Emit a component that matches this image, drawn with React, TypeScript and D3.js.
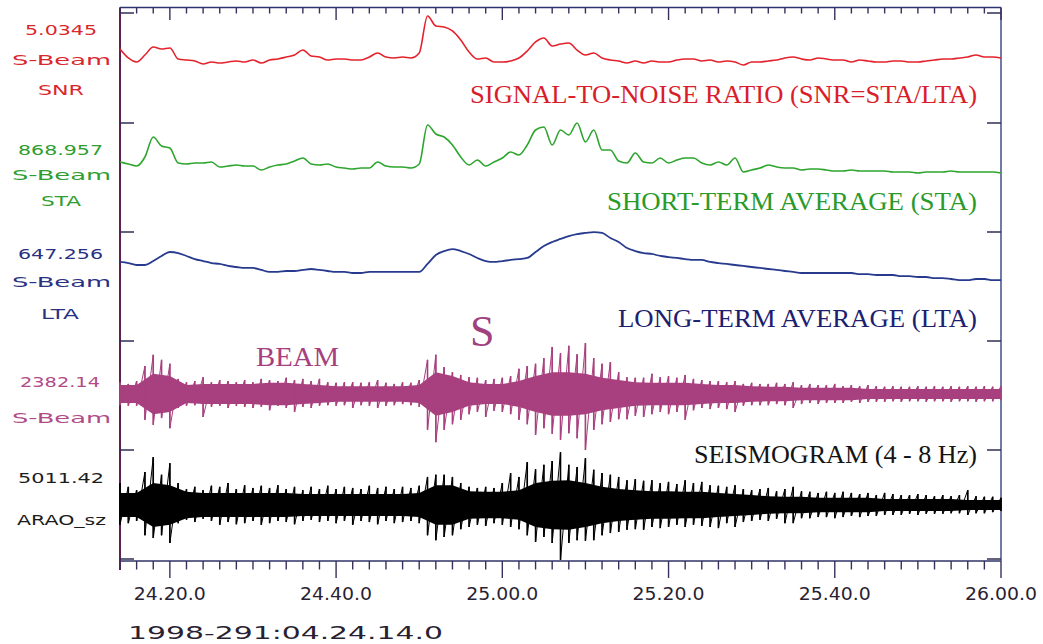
import React from "react";
import * as d3 from "d3";

const W = 1043;
const H = 644;

// Time axis: seconds after 1998-291 04:24:14.0
const START_LABEL = "1998-291:04.24.14.0";
const T_END = 106;
const SAMPLE_TIMES = d3.range(0, 107); // 1-s samples
const CORE_TIMES = d3.range(0, 107, 2); // 2-s samples
const MINOR_TICKS = d3.range(0, 107, 2);
const MAJOR_TICKS = [6, 26, 46, 66, 86, 106];
const MAJOR_LABELS = ["24.20.0", "24.40.0", "25.00.0", "25.20.0", "25.40.0", "26.00.0"];

// Trace peak values (labels at left)
const SNR_PEAK = 5.0345;
const STA_PEAK = 868.957;
const LTA_PEAK = 647.256;
const BEAM_PEAK = 2382.14;
const SEIS_PEAK = 5011.42;

// Signal-to-noise ratio (STA/LTA), 1-s samples
const SNR = [
  2.0, 1.22, 0.87, 1.48, 2.17, 2.0, 2.09, 1.13, 1.04, 0.96,
  0.7, 0.87, 0.78, 0.87, 0.96, 0.87, 1.04, 0.78, 1.04, 1.13,
  1.3, 1.48, 1.91, 1.39, 1.3, 1.04, 1.13, 1.13, 1.04, 1.04,
  1.3, 1.65, 1.3, 1.22, 1.3, 1.22, 1.65, 4.87, 4.0, 3.91,
  3.57, 2.78, 1.74, 1.13, 1.22, 0.87, 0.87, 0.96, 1.22, 1.83,
  2.61, 2.96, 2.26, 2.43, 2.52, 1.91, 1.48, 1.65, 1.22, 1.04,
  0.96, 0.78, 0.96, 0.78, 0.96, 0.87, 0.87, 1.04, 1.13, 1.13,
  0.96, 1.04, 0.87, 0.96, 0.87, 0.61, 0.87, 0.87, 0.96, 1.04,
  1.22, 1.3, 1.13, 1.04, 1.22, 1.13, 1.04, 1.04, 0.87, 1.04,
  0.96, 0.87, 0.87, 0.96, 0.96, 0.87, 0.87, 0.96, 1.04, 1.13,
  1.13, 1.22, 1.3, 1.48, 1.3, 1.3, 1.22,
];

// Short-term average
const STA = [
  363, 337, 311, 428, 687, 571, 545, 350, 337, 350,
  350, 363, 298, 311, 324, 311, 311, 259, 298, 324,
  337, 376, 415, 337, 324, 337, 298, 285, 272, 285,
  285, 363, 311, 298, 298, 285, 337, 843, 726, 687,
  584, 428, 324, 389, 311, 363, 415, 493, 454, 584,
  778, 817, 584, 778, 713, 869, 623, 778, 519, 519,
  376, 350, 480, 363, 350, 415, 350, 389, 415, 415,
  350, 324, 363, 324, 415, 233, 259, 285, 324, 298,
  285, 285, 259, 272, 272, 259, 246, 246, 259, 246,
  246, 246, 246, 233, 233, 233, 220, 233, 233, 233,
  246, 233, 233, 233, 233, 233, 220,
];

// Long-term average
const LTA = [
  362, 352, 333, 333, 371, 419, 457, 447, 419, 390,
  371, 352, 343, 324, 314, 305, 305, 286, 267, 267,
  276, 276, 286, 295, 286, 276, 267, 267, 257, 257,
  267, 267, 267, 267, 267, 267, 267, 343, 428, 466,
  485, 466, 438, 400, 371, 362, 371, 381, 390, 400,
  457, 514, 552, 581, 609, 628, 638, 647, 638, 590,
  552, 495, 466, 447, 438, 419, 409, 400, 390, 381,
  381, 362, 352, 343, 333, 324, 314, 305, 295, 286,
  276, 267, 257, 257, 257, 257, 257, 257, 257, 247,
  247, 238, 238, 238, 228, 228, 219, 219, 209, 209,
  200, 190, 190, 200, 200, 190, 190,
];

// Beam: per-second max / min (fraction of peak) and 2-s core envelope
const BEAM_MAX = [
  0.21, 0.18, 0.23, 0.5, 0.7, 0.61, 0.54, 0.27, 0.21, 0.23,
  0.3, 0.21, 0.25, 0.23, 0.21, 0.25, 0.21, 0.27, 0.25, 0.23,
  0.29, 0.25, 0.27, 0.23, 0.27, 0.21, 0.2, 0.21, 0.21, 0.2,
  0.21, 0.25, 0.2, 0.18, 0.21, 0.2, 0.25, 0.61, 0.7, 0.48,
  0.39, 0.34, 0.3, 0.29, 0.25, 0.27, 0.29, 0.32, 0.45, 0.5,
  0.54, 0.64, 0.84, 0.73, 0.86, 0.71, 0.91, 0.64, 0.54, 0.57,
  0.39, 0.3, 0.29, 0.29, 0.36, 0.3, 0.32, 0.29, 0.34, 0.27,
  0.25, 0.23, 0.23, 0.21, 0.23, 0.18, 0.2, 0.18, 0.18, 0.2,
  0.18, 0.21, 0.16, 0.18, 0.16, 0.16, 0.18, 0.14, 0.16, 0.14,
  0.16, 0.14, 0.13, 0.14, 0.13, 0.13, 0.14, 0.13, 0.14, 0.13,
  0.14, 0.13, 0.14, 0.13, 0.14, 0.13, 0.14,
];
const BEAM_MIN = [
  -0.2, -0.21, -0.21, -0.46, -0.55, -0.43, -0.61, -0.25, -0.21, -0.2,
  -0.41, -0.23, -0.21, -0.25, -0.21, -0.23, -0.25, -0.23, -0.29, -0.21,
  -0.25, -0.32, -0.23, -0.25, -0.21, -0.2, -0.21, -0.2, -0.25, -0.2,
  -0.21, -0.25, -0.21, -0.2, -0.18, -0.2, -0.23, -0.64, -0.86, -0.64,
  -0.54, -0.46, -0.36, -0.32, -0.41, -0.3, -0.32, -0.36, -0.46, -0.54,
  -0.73, -0.61, -0.71, -0.82, -0.7, -0.79, -1.0, -0.64, -0.54, -0.5,
  -0.45, -0.45, -0.39, -0.41, -0.36, -0.32, -0.36, -0.32, -0.46, -0.29,
  -0.25, -0.27, -0.25, -0.27, -0.32, -0.21, -0.2, -0.2, -0.2, -0.18,
  -0.2, -0.25, -0.18, -0.16, -0.18, -0.16, -0.16, -0.16, -0.14, -0.16,
  -0.14, -0.14, -0.14, -0.13, -0.14, -0.13, -0.13, -0.14, -0.13, -0.13,
  -0.14, -0.13, -0.13, -0.14, -0.13, -0.13, -0.11,
];
const BEAM_CORE = [
  0.16, 0.16, 0.36, 0.32, 0.16, 0.18, 0.18, 0.18, 0.18, 0.2,
  0.2, 0.18, 0.16, 0.14, 0.14, 0.14, 0.14, 0.14, 0.16, 0.39,
  0.32, 0.21, 0.18, 0.18, 0.23, 0.32, 0.39, 0.39, 0.36, 0.29,
  0.25, 0.21, 0.2, 0.2, 0.2, 0.18, 0.16, 0.16, 0.14, 0.13,
  0.13, 0.11, 0.11, 0.11, 0.11, 0.09, 0.09, 0.09, 0.09, 0.09,
  0.09, 0.09, 0.09, 0.09,
];

// Seismogram ARAO_sz (4-8 Hz)
const SEIS_MAX = [
  0.4, 0.33, 0.27, 0.6, 0.87, 0.55, 0.76, 0.4, 0.29, 0.33,
  0.27, 0.35, 0.33, 0.4, 0.29, 0.36, 0.31, 0.35, 0.31, 0.36,
  0.29, 0.33, 0.27, 0.33, 0.29, 0.35, 0.29, 0.33, 0.31, 0.29,
  0.35, 0.31, 0.33, 0.29, 0.33, 0.31, 0.35, 0.51, 0.55, 0.55,
  0.51, 0.4, 0.33, 0.31, 0.33, 0.31, 0.4, 0.58, 0.51, 0.78,
  0.65, 0.73, 0.8, 0.96, 0.73, 0.69, 0.85, 0.64, 0.58, 0.55,
  0.51, 0.45, 0.47, 0.44, 0.45, 0.4, 0.42, 0.38, 0.45, 0.4,
  0.42, 0.36, 0.35, 0.33, 0.36, 0.29, 0.27, 0.29, 0.31, 0.25,
  0.29, 0.33, 0.25, 0.24, 0.22, 0.24, 0.22, 0.24, 0.22, 0.2,
  0.22, 0.18, 0.22, 0.2, 0.18, 0.18, 0.2, 0.18, 0.16, 0.18,
  0.16, 0.18, 0.27, 0.16, 0.15, 0.15, 0.13,
];
const SEIS_MIN = [
  -0.36, -0.33, -0.29, -0.55, -0.6, -0.55, -0.69, -0.33, -0.27, -0.31,
  -0.25, -0.29, -0.36, -0.31, -0.35, -0.33, -0.29, -0.36, -0.33, -0.29,
  -0.31, -0.35, -0.29, -0.27, -0.31, -0.29, -0.33, -0.29, -0.36, -0.29,
  -0.31, -0.35, -0.29, -0.33, -0.31, -0.29, -0.33, -0.55, -0.64, -0.58,
  -0.55, -0.44, -0.4, -0.36, -0.38, -0.33, -0.36, -0.4, -0.44, -0.55,
  -0.67, -0.58, -0.69, -1.0, -0.69, -0.64, -0.65, -0.64, -0.55, -0.51,
  -0.49, -0.45, -0.44, -0.45, -0.4, -0.42, -0.4, -0.36, -0.4, -0.36,
  -0.38, -0.4, -0.42, -0.33, -0.4, -0.31, -0.29, -0.27, -0.29, -0.25,
  -0.33, -0.33, -0.24, -0.24, -0.22, -0.22, -0.24, -0.22, -0.2, -0.22,
  -0.2, -0.2, -0.18, -0.18, -0.18, -0.16, -0.18, -0.16, -0.16, -0.16,
  -0.15, -0.15, -0.18, -0.15, -0.15, -0.13, -0.11,
];
const SEIS_CORE = [
  0.22, 0.22, 0.4, 0.36, 0.24, 0.22, 0.22, 0.22, 0.22, 0.22,
  0.22, 0.2, 0.2, 0.2, 0.2, 0.2, 0.2, 0.2, 0.22, 0.36,
  0.36, 0.25, 0.24, 0.24, 0.27, 0.4, 0.44, 0.45, 0.4, 0.33,
  0.29, 0.27, 0.25, 0.25, 0.24, 0.24, 0.22, 0.2, 0.18, 0.16,
  0.15, 0.15, 0.13, 0.13, 0.13, 0.13, 0.11, 0.11, 0.11, 0.11,
  0.11, 0.09, 0.09, 0.09,
];

// Left-side channel labels
const CHANNEL_LABELS = [
  { lines: [String(SNR_PEAK), "S-Beam", "SNR"], color: "#d8282e" },
  { lines: [String(STA_PEAK), "S-Beam", "STA"], color: "#2f9d2f" },
  { lines: [String(LTA_PEAK), "S-Beam", "LTA"], color: "#2a3182" },
  { lines: [String(BEAM_PEAK), "S-Beam"], color: "#b04b88" },
  { lines: [String(SEIS_PEAK), "ARAO_sz"], color: "#1c1c1c" },
];

// Layout
const L = 120;
const R = 1001;
const TOP = 7.5;
const BOT = 561;
const PANEL_TICKS = [13, 123, 232, 341, 450, 559];

const SANS = "'DejaVu Sans', Verdana, sans-serif";
const SERIF = "'Liberation Serif', 'Times New Roman', serif";

export default function App() {
  const x = d3.scaleLinear().domain([0, T_END]).range([L, R]);
  const ySnr = d3.scaleLinear().domain([0, SNR_PEAK]).range([72, 14.1]);
  const ySta = d3.scaleLinear().domain([0, STA_PEAK]).range([190, 123]);
  const yLta = d3.scaleLinear().domain([0, LTA_PEAK]).range([300, 232]);
  const yBeam = d3.scaleLinear().domain([-1, 1]).range([394 + 56, 394 - 56]);
  const ySeis = d3.scaleLinear().domain([-1, 1]).range([505 + 55, 505 - 55]);

  const smooth = (ys: d3.ScaleLinear<number, number>) =>
    d3
      .line<number>()
      .x((_, i) => x(SAMPLE_TIMES[i]))
      .y((d) => ys(d))
      .curve(d3.curveMonotoneX);

  // min/max decimated trace: vertical sweep per sample, diagonal to the next
  const minMaxPath = (ys: d3.ScaleLinear<number, number>, mx: number[], mn: number[]) => {
    const pts: [number, number][] = [];
    SAMPLE_TIMES.forEach((t, i) => {
      pts.push([x(t), ys(mx[i])]);
      pts.push([x(t), ys(mn[i])]);
    });
    return d3.line()(pts) || "";
  };

  const coreArea = (ys: d3.ScaleLinear<number, number>) =>
    d3
      .area<number>()
      .x((_, i) => x(CORE_TIMES[i]))
      .y0((d) => ys(-d))
      .y1((d) => ys(d))
      .curve(d3.curveLinear);

  const labelLayout = [
    [
      { x: 25, y: 34.5, w: 72 },
      { x: 12, y: 65, w: 99 },
      { x: 38, y: 95, w: 46 },
    ],
    [
      { x: 18, y: 155, w: 85 },
      { x: 12, y: 180, w: 99 },
      { x: 41, y: 206, w: 40 },
    ],
    [
      { x: 18, y: 259, w: 85 },
      { x: 12, y: 287, w: 99 },
      { x: 41, y: 319, w: 38 },
    ],
    [
      { x: 20, y: 387, w: 80 },
      { x: 12, y: 423, w: 99 },
    ],
    [
      { x: 18, y: 483, w: 86 },
      { x: 17, y: 525, w: 89 },
    ],
  ];

  const beamColor = "#a8407f";
  const tickColor = "#3a2f5c";

  const spikes = (
    ys: d3.ScaleLinear<number, number>,
    mx: number[],
    mn: number[],
    color: string,
    key: string
  ) =>
    SAMPLE_TIMES.map((t, i) => (
      <line
        key={key + i}
        x1={x(t)}
        x2={x(t)}
        y1={ys(mx[i])}
        y2={ys(mn[i])}
        stroke={color}
        strokeWidth={1.6}
      />
    ));

  return (
    <svg
      width={W}
      height={H}
      style={{ position: "absolute", left: 0, top: 0, background: "#fff" }}
    >
      <rect x={0} y={0} width={W} height={H} fill="#ffffff" />

      {/* frame */}
      <line x1={L} x2={R} y1={TOP} y2={TOP} stroke="#2c3470" strokeWidth={1.6} />
      <line x1={L} x2={R} y1={BOT} y2={BOT} stroke="#2f3568" strokeWidth={1.6} />
      <line x1={R} x2={R} y1={TOP} y2={BOT} stroke="#4b5a92" strokeWidth={1.6} />
      <line x1={L} x2={L} y1={TOP} y2={570} stroke="#5e2050" strokeWidth={2} />

      {/* panel ticks left / right */}
      {PANEL_TICKS.map((py) => (
        <g key={"pt" + py}>
          <line x1={L} x2={L + 14} y1={py} y2={py} stroke="#2c2f55" strokeWidth={1.5} />
          <line x1={R - 14} x2={R} y1={py} y2={py} stroke="#2c2f55" strokeWidth={1.5} />
        </g>
      ))}

      {/* time ticks top and bottom */}
      {MINOR_TICKS.map((t) => {
        const major = MAJOR_TICKS.includes(t);
        return (
          <g key={"tk" + t}>
            <line
              x1={x(t)}
              x2={x(t)}
              y1={TOP}
              y2={TOP + (major ? 12.5 : 6)}
              stroke={tickColor}
              strokeWidth={1.4}
            />
            <line
              x1={x(t)}
              x2={x(t)}
              y1={BOT}
              y2={BOT + (major ? 17 : 8.5)}
              stroke={tickColor}
              strokeWidth={1.4}
            />
          </g>
        );
      })}
      {MAJOR_TICKS.map((t, i) => (
        <text
          key={"tl" + t}
          x={x(t)}
          y={600}
          textAnchor="middle"
          fontFamily={SANS}
          fontSize={17}
          fill="#2a1f33"
          textLength={72}
          lengthAdjust="spacingAndGlyphs"
        >
          {MAJOR_LABELS[i]}
        </text>
      ))}
      <text
        x={128}
        y={639}
        fontFamily={SANS}
        fontSize={17}
        fill="#2a1f33"
        textLength={315}
        lengthAdjust="spacingAndGlyphs"
      >
        {START_LABEL}
      </text>

      {/* left channel labels */}
      {CHANNEL_LABELS.map((ch, ci) =>
        ch.lines.map((s, li) => {
          const p = labelLayout[ci][li];
          return (
            <text
              key={"cl" + ci + "-" + li}
              x={p.x}
              y={p.y}
              fontFamily={SANS}
              fontSize={14}
              fill={ch.color}
              textLength={p.w}
              lengthAdjust="spacingAndGlyphs"
            >
              {s}
            </text>
          );
        })
      )}

      {/* traces */}
      <path d={smooth(ySnr)(SNR) || ""} fill="none" stroke="#e3222c" strokeWidth={1.6} />
      <path d={smooth(ySta)(STA) || ""} fill="none" stroke="#2ea52e" strokeWidth={1.6} />
      <path d={smooth(yLta)(LTA) || ""} fill="none" stroke="#273a8e" strokeWidth={1.8} />

      <path d={coreArea(yBeam)(BEAM_CORE) || ""} fill={beamColor} />
      <path
        d={minMaxPath(yBeam, BEAM_MAX, BEAM_MIN)}
        fill="none"
        stroke={beamColor}
        strokeWidth={1}
      />
      {spikes(yBeam, BEAM_MAX, BEAM_MIN, beamColor, "bs")}

      <path d={coreArea(ySeis)(SEIS_CORE) || ""} fill="#000" />
      <path
        d={minMaxPath(ySeis, SEIS_MAX, SEIS_MIN)}
        fill="none"
        stroke="#000"
        strokeWidth={1}
      />
      {spikes(ySeis, SEIS_MAX, SEIS_MIN, "#000", "ss")}

      {/* annotations */}
      <text
        x={977}
        y={103}
        textAnchor="end"
        fontFamily={SERIF}
        fontSize={25}
        fill="#d81e2a"
        textLength={507}
        lengthAdjust="spacingAndGlyphs"
      >
        SIGNAL-TO-NOISE RATIO (SNR=STA/LTA)
      </text>
      <text
        x={977}
        y={210}
        textAnchor="end"
        fontFamily={SERIF}
        fontSize={25}
        fill="#2a9a2a"
        textLength={370}
        lengthAdjust="spacingAndGlyphs"
      >
        SHORT-TERM AVERAGE (STA)
      </text>
      <text
        x={977}
        y={326.5}
        textAnchor="end"
        fontFamily={SERIF}
        fontSize={25}
        fill="#1c2070"
        textLength={359}
        lengthAdjust="spacingAndGlyphs"
      >
        LONG-TERM AVERAGE (LTA)
      </text>
      <text
        x={977}
        y={463}
        textAnchor="end"
        fontFamily={SERIF}
        fontSize={25}
        fill="#141414"
        textLength={283}
        lengthAdjust="spacingAndGlyphs"
      >
        SEISMOGRAM (4 - 8 Hz)
      </text>
      <text
        x={256}
        y={366}
        fontFamily={SERIF}
        fontSize={28}
        fill={beamColor}
        textLength={83}
        lengthAdjust="spacingAndGlyphs"
      >
        BEAM
      </text>
      <text x={470} y={346} fontFamily={SERIF} fontSize={44} fill="#a0407e">
        S
      </text>
    </svg>
  );
}
